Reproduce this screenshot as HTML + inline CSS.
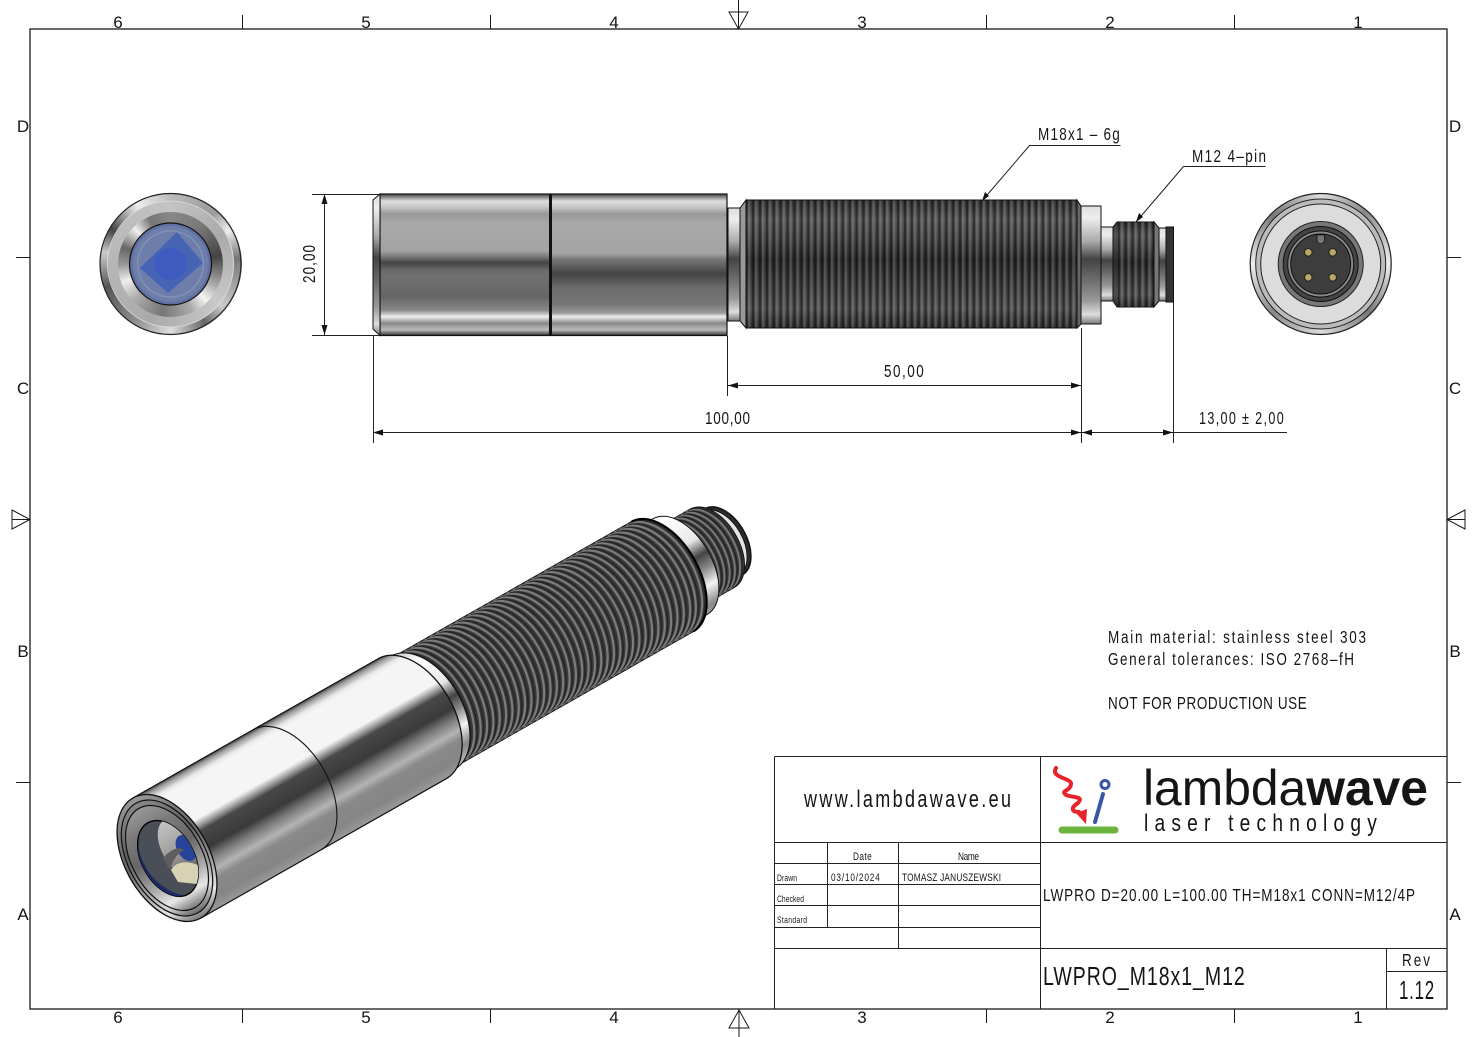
<!DOCTYPE html>
<html><head><meta charset="utf-8"><style>
html,body{margin:0;padding:0;background:#fff;width:1476px;height:1037px;overflow:hidden}
.c{position:absolute;border-radius:50%;box-sizing:border-box}
svg{position:absolute;left:0;top:0}
text{font-family:"Liberation Sans",sans-serif;fill:#151515}
</style></head><body>
<div class="c" style="left:99.5px;top:193px;width:142px;height:142px;background:conic-gradient(#bbb 0deg,#999 40deg,#eee 60deg,#777 85deg,#ccc 130deg,#666 150deg,#ddd 180deg,#888 215deg,#555 250deg,#ccc 280deg,#444 300deg,#eee 330deg,#bbb 360deg)"></div>
<div class="c" style="left:107.5px;top:201px;width:126px;height:126px;background:conic-gradient(#c4c4c4,#aaa 60deg,#c8c8c8 130deg,#aaa 200deg,#b8b8b8 280deg,#c4c4c4)"></div>
<div class="c" style="left:118px;top:211.5px;width:105px;height:105px;background:conic-gradient(#888 0deg,#777 40deg,#444 80deg,#aaa 115deg,#f4f4f4 135deg,#aaa 155deg,#777 190deg,#aaa 225deg,#eee 250deg,#999 270deg,#666 290deg,#f0f0f0 315deg,#777 335deg,#888 360deg)"></div>
<div class="c" style="left:1250px;top:193px;width:142px;height:142px;background:conic-gradient(#ddd,#888 40deg,#eee 90deg,#777 135deg,#ddd 180deg,#888 225deg,#eee 270deg,#777 315deg,#ddd)"></div>
<svg width="1476" height="1037" viewBox="0 0 1476 1037" xmlns="http://www.w3.org/2000/svg">
<defs>
<linearGradient id="m1" x1="0" y1="0" x2="0" y2="1"><stop offset="0" stop-color="#444"/><stop offset=".05" stop-color="#ddd"/><stop offset=".09" stop-color="#c8c8c8"/><stop offset=".14" stop-color="#999"/><stop offset=".21" stop-color="#a8a8a8"/><stop offset=".40" stop-color="#a4a4a4"/><stop offset=".445" stop-color="#777"/><stop offset=".485" stop-color="#444"/><stop offset=".54" stop-color="#6a6a6a"/><stop offset=".585" stop-color="#707070"/><stop offset=".725" stop-color="#666"/><stop offset=".82" stop-color="#888"/><stop offset=".867" stop-color="#eee"/><stop offset=".913" stop-color="#888"/><stop offset=".96" stop-color="#bbb"/><stop offset="1" stop-color="#333"/></linearGradient>
<linearGradient id="m2" x1="0" y1="0" x2="0" y2="1"><stop offset="0" stop-color="#444"/><stop offset=".05" stop-color="#ddd"/><stop offset=".09" stop-color="#c8c8c8"/><stop offset=".14" stop-color="#999"/><stop offset=".21" stop-color="#a8a8a8"/><stop offset=".42" stop-color="#a4a4a4"/><stop offset=".46" stop-color="#777"/><stop offset=".565" stop-color="#444"/><stop offset=".66" stop-color="#6a6a6a"/><stop offset=".78" stop-color="#777"/><stop offset=".84" stop-color="#999"/><stop offset=".867" stop-color="#eee"/><stop offset=".913" stop-color="#888"/><stop offset=".96" stop-color="#bbb"/><stop offset="1" stop-color="#333"/></linearGradient>
<linearGradient id="th" x1="0" y1="0" x2="0" y2="1"><stop offset="0" stop-color="#333"/><stop offset=".15" stop-color="#555"/><stop offset=".3" stop-color="#444"/><stop offset=".47" stop-color="#2a2a2a"/><stop offset=".62" stop-color="#3a3a3a"/><stop offset=".85" stop-color="#505050"/><stop offset="1" stop-color="#2c2c2c"/></linearGradient>
<linearGradient id="nk" x1="0" y1="0" x2="0" y2="1"><stop offset="0" stop-color="#ddd"/><stop offset=".1" stop-color="#eee"/><stop offset=".3" stop-color="#aaa"/><stop offset=".45" stop-color="#444"/><stop offset=".6" stop-color="#666"/><stop offset=".8" stop-color="#999"/><stop offset=".92" stop-color="#ddd"/><stop offset="1" stop-color="#777"/></linearGradient>
<pattern id="rib" patternUnits="userSpaceOnUse" width="6.9" height="10"><rect x="0" y="0" width="2" height="10" fill="#000" opacity=".42"/><rect x="3" y="0" width="2.2" height="10" fill="#fff" opacity=".16"/></pattern>
<linearGradient id="iso" gradientUnits="userSpaceOnUse" x1="0" y1="-69" x2="0" y2="69"><stop offset="0" stop-color="#444"/><stop offset=".025" stop-color="#999"/><stop offset=".07" stop-color="#e8e8e8"/><stop offset=".1" stop-color="#f5f5f5"/><stop offset=".36" stop-color="#f5f5f5"/><stop offset=".41" stop-color="#999"/><stop offset=".45" stop-color="#484848"/><stop offset=".58" stop-color="#3a3a3a"/><stop offset=".65" stop-color="#777"/><stop offset=".74" stop-color="#b4b4b4"/><stop offset=".8" stop-color="#8a8a8a"/><stop offset=".92" stop-color="#858585"/><stop offset="1" stop-color="#999"/></linearGradient>
<linearGradient id="ring" gradientUnits="userSpaceOnUse" x1="0" y1="-69" x2="0" y2="69"><stop offset="0" stop-color="#bbb"/><stop offset=".15" stop-color="#fff"/><stop offset=".38" stop-color="#e8e8e8"/><stop offset=".5" stop-color="#444"/><stop offset=".6" stop-color="#888"/><stop offset=".72" stop-color="#f4f4f4"/><stop offset=".85" stop-color="#888"/><stop offset="1" stop-color="#ccc"/></linearGradient>
<linearGradient id="face" x1="0" y1="0" x2="0" y2="1"><stop offset="0" stop-color="#999"/><stop offset=".2" stop-color="#7a7a7a"/><stop offset=".45" stop-color="#666"/><stop offset=".7" stop-color="#aaa"/><stop offset=".86" stop-color="#e8e8e8"/><stop offset="1" stop-color="#777"/></linearGradient>
<linearGradient id="face2" x1="0" y1="0" x2="0" y2="1"><stop offset="0" stop-color="#888"/><stop offset=".35" stop-color="#5c5c5c"/><stop offset=".7" stop-color="#aaa"/><stop offset=".85" stop-color="#ddd"/><stop offset="1" stop-color="#666"/></linearGradient>
<linearGradient id="inner" x1="0" y1="0" x2="0" y2="1"><stop offset="0" stop-color="#c4c4c4"/><stop offset=".55" stop-color="#9a9a9a"/><stop offset="1" stop-color="#555"/></linearGradient>
<g id="ar"><path d="M0,-63A38,63 0 0 1 0,63" fill="none" stroke="#7c7c7c" stroke-width="2.200"/><path d="M3.300,-63A38,63 0 0 1 3.300,63" fill="none" stroke="#262626" stroke-width="1.500"/></g>
<g id="a6"><use href="#ar"/><use href="#ar" x="7.3"/><use href="#ar" x="14.6"/><use href="#ar" x="21.9"/><use href="#ar" x="29.2"/><use href="#ar" x="36.5"/></g>
<g id="a36"><use href="#a6"/><use href="#a6" x="43.8"/><use href="#a6" x="87.6"/><use href="#a6" x="131.4"/><use href="#a6" x="175.2"/><use href="#a6" x="219"/></g>
<g id="ac"><path d="M0,-45A27,45 0 0 1 0,45" fill="none" stroke="#7a7a7a" stroke-width="1.800"/><path d="M2.700,-45A27,45 0 0 1 2.700,45" fill="none" stroke="#222" stroke-width="1.300"/></g>
<clipPath id="cl"><circle cx="170.5" cy="264" r="40"/></clipPath>
<clipPath id="ct"><path d="M288,-63H570A36,63 0 0 1 570,63H288Z"/></clipPath>
<clipPath id="cc"><path d="M600,-45H627A27,45 0 0 1 627,45H600Z"/></clipPath>
<clipPath id="ap"><ellipse cx="0" cy="0" rx="26" ry="41" transform="translate(168,858.500) rotate(-29.6)"/></clipPath>
</defs>

<!-- drawing frame -->
<g stroke="#1a1a1a" fill="none">
<rect x="30" y="29" width="1417" height="980" stroke-width="1.3"/>
<path d="M242.500 15V29M490.500 15V29M986.500 15V29M1234.500 15V29M242.500 1009V1023M490.500 1009V1023M986.500 1009V1023M1234.500 1009V1023M16 257.500H30M16 782.500H30M1447 257.500H1461M1447 782.500H1461" stroke-width="1"/>
<path d="M738.500 0V29M729 12H748L738.500 29ZM739 1009V1037M729 1028H749L739 1010ZM12 519.500H30M12 510V529L30 519.500ZM1447 519.500H1465M1465 510V529L1447 519.500Z" stroke-width="1"/>
</g>
<g font-size="17" text-anchor="middle">
<text x="118" y="28">6</text><text x="366" y="28">5</text><text x="614" y="28">4</text><text x="862" y="28">3</text><text x="1110" y="28">2</text><text x="1358" y="28">1</text>
<text x="118" y="1023">6</text><text x="366" y="1023">5</text><text x="614" y="1023">4</text><text x="862" y="1023">3</text><text x="1110" y="1023">2</text><text x="1358" y="1023">1</text>
<text x="23" y="132">D</text><text x="23" y="394">C</text><text x="23" y="657">B</text><text x="23" y="920">A</text>
<text x="1455" y="132">D</text><text x="1455" y="394">C</text><text x="1455" y="657">B</text><text x="1455" y="920">A</text>
</g>

<!-- left end view -->
<g fill="none">
<circle cx="170.500" cy="264" r="70.500" stroke="#222" stroke-width="1.2"/>
<circle cx="170.500" cy="264" r="63" stroke="#ddd" stroke-width=".8"/>
<circle cx="170.500" cy="264" r="41" fill="#5f70a2" stroke="#111" stroke-width="1.2"/>
<g clip-path="url(#cl)">
<circle cx="170.500" cy="264" r="38" fill="#6c7ea9"/>
<path d="M177 232L203 263L168 293L140 268Z" fill="#4763b4"/>
<circle cx="170.500" cy="264" r="33" fill="none" stroke="#8fa0c0" stroke-width="1.500" opacity=".6"/>
<circle cx="170.500" cy="264" r="16" fill="#3e5cc0"/>
</g>
</g>

<!-- right end view -->
<g fill="none">
<circle cx="1320.700" cy="264" r="70.500" stroke="#222" stroke-width="1.2"/>
<circle cx="1320.700" cy="264" r="65" fill="#bbb" stroke="#222" stroke-width="1"/>
<circle cx="1320.700" cy="264" r="60" fill="#dcdcdc" stroke="#222" stroke-width="1"/>
<circle cx="1320.700" cy="264" r="42.500" fill="#777" stroke="#222" stroke-width="1"/>
<circle cx="1320.700" cy="264" r="37.500" fill="#444" stroke="#111" stroke-width="1"/>
<circle cx="1320.700" cy="264" r="33" fill="#888" stroke="#111" stroke-width="1"/>
<circle cx="1320.700" cy="264" r="30" fill="#3d3d3d" stroke="#111" stroke-width="1"/>
<path d="M1317 235H1324.500V240A3.700 3.700 0 0 1 1317 240Z" fill="#777" stroke="#111" stroke-width=".8"/>
<g fill="#b9a765" stroke="#222" stroke-width="1"><circle cx="1308.300" cy="252.300" r="3.800"/><circle cx="1332.700" cy="252.300" r="3.800"/><circle cx="1308.300" cy="277.300" r="3.800"/><circle cx="1332.700" cy="277.300" r="3.800"/></g>
</g>

<!-- side view -->
<g stroke="#111" stroke-width="1">
<rect x="1166" y="227" width="7.500" height="75" fill="#333"/>
<rect x="1159" y="228" width="7" height="73" fill="url(#nk)"/>
<path d="M1154 222L1159 228V301L1154 307Z" fill="#777"/>
<path d="M1113 227L1117 222H1154V307H1117L1113 301Z" fill="url(#th)"/>
<rect x="1117" y="222" width="37" height="85" fill="url(#rib)" stroke="none"/>
<rect x="1101" y="227" width="12" height="74" fill="url(#nk)"/>
<rect x="1081" y="206" width="20" height="118" fill="url(#nk)"/>
<path d="M1077 200L1081 206V324L1077 328Z" fill="#666"/>
<path d="M746 200H1077V328H746Z" fill="url(#th)" stroke-width="1"/>
<rect x="746" y="200.500" width="331" height="127" fill="url(#rib)" stroke="none"/>
<path d="M740 208L746 200V328L740 321Z" fill="#999"/>
<rect x="728" y="208" width="12" height="113" fill="url(#nk)"/>
<rect x="551" y="194" width="176" height="141.500" fill="url(#m2)" stroke-width="1.200"/>
<rect x="380" y="194" width="170" height="141.500" fill="url(#m1)" stroke-width="1.200"/>
<path d="M380 194L373 200V329L380 335.500Z" fill="url(#nk)" stroke-width="1"/>
<path d="M550.500 194V335.500" stroke="#111" stroke-width="3"/>
</g>

<!-- dimensions -->
<g stroke="#222" stroke-width="1" fill="none">
<path d="M312 194.500H380M312 335.500H380M324.500 195V335"/>
<path d="M373.500 336V443M727.500 336V396M1081.500 328V443M1173.500 302V443"/>
<path d="M728 385.500H1081M373 432.500H1081M1081 432.500H1287"/>
<path d="M1029.500 145.500H1120.500M1029.500 145.500L982 201M1183.500 166.500H1265.500M1183.500 166.500L1136 222"/>
</g>
<g fill="#111">
<path d="M324.500 194L321.500 204H327.500ZM324.500 335L321.500 325H327.500Z"/>
<path d="M728 385.500L738 382.500V388.500ZM1081 385.500L1071 382.500V388.500Z"/>
<path d="M373 432.500L383 429.500V435.500ZM1081 432.500L1071 429.500V435.500ZM1082 432.500L1092 429.500V435.500ZM1173 432.500L1163 429.500V435.500Z"/>
<path d="M982 201L985 192L989 196ZM1136 222L1139 213L1143 217Z"/>
</g>
<g font-size="18">
<text transform="translate(315,283) rotate(-90) scale(.75,1)" textLength="50.700" lengthAdjust="spacing">20,00</text>
<text transform="translate(884,377) scale(.75,1)" textLength="53" lengthAdjust="spacing">50,00</text>
<text transform="translate(705,424) scale(.75,1)" textLength="60" lengthAdjust="spacing">100,00</text>
<text transform="translate(1199,424) scale(.7,1)" textLength="121" lengthAdjust="spacing">13,00 ± 2,00</text>
<text transform="translate(1038,140) scale(.75,1)" textLength="109" lengthAdjust="spacing">M18x1 – 6g</text>
<text transform="translate(1192,162) scale(.75,1)" textLength="98.700" lengthAdjust="spacing">M12 4–pin</text>
<text transform="translate(1108,643) scale(.75,1)" textLength="344" lengthAdjust="spacing">Main material: stainless steel 303</text>
<text transform="translate(1108,665) scale(.75,1)" textLength="328" lengthAdjust="spacing">General tolerances: ISO 2768–fH</text>
<text transform="translate(1108,709) scale(.75,1)" textLength="265" lengthAdjust="spacing">NOT FOR PRODUCTION USE</text>
</g>

<!-- isometric view -->
<g transform="translate(167,858) rotate(-29.6)" stroke-linejoin="round">
<!-- connector end -->
<path d="M632,-38H640A23,38 0 0 1 640,38H632Z" fill="#2c2c2c" stroke="#111" stroke-width="1.500"/>
<path d="M633,-37H636A23,37 0 0 1 636,37H633Z" fill="#e4e4e4" stroke="#111" stroke-width="1"/>
<path d="M630,-36H630A21,36 0 0 1 630,36Z" fill="#444" stroke="#111" stroke-width="1"/>
<path d="M600,-45H627A27,45 0 0 1 627,45H600Z" fill="#3c3c3c" stroke="#111" stroke-width="1"/>
<g clip-path="url(#cc)"><use href="#ac" x="598"/><use href="#ac" x="604"/><use href="#ac" x="610"/><use href="#ac" x="616"/><use href="#ac" x="622"/></g>
<path d="M580,-44H592A27,44 0 0 1 592,44H580Z" fill="url(#ring)" stroke="#111" stroke-width=".8"/>
<!-- ring -->
<path d="M570,-55H590A32,55 0 0 1 590,55H570Z" fill="url(#ring)" stroke="#111" stroke-width="1"/>
<!-- thread -->
<path d="M288,-63H570A36,63 0 0 1 570,63H288Z" fill="#3a3a3a" stroke="#111" stroke-width="1.200"/>
<g clip-path="url(#ct)"><use href="#a36" x="294"/><use href="#a6" x="556"/></g>
<path d="M570,-63A36,63 0 0 1 570,63" fill="none" stroke="#000" stroke-width="2"/>
<!-- neck -->
<path d="M282,-65H294A40,65 0 0 1 294,65H282Z" fill="url(#ring)" stroke="#111" stroke-width="1"/>
<!-- body -->
<path d="M0,-69H282A42,69 0 0 1 282,69H0Z" fill="url(#iso)" stroke="#111" stroke-width="1.200"/>
<path d="M138,-69A42,69 0 0 1 138,69" fill="none" stroke="#111" stroke-width="1.100"/>
<path d="M282,-69A42,69 0 0 1 282,69" fill="none" stroke="#111" stroke-width="1"/>
<!-- front -->
<ellipse cx="0" cy="0" rx="42" ry="69" fill="url(#face)" stroke="#111" stroke-width="1.300"/>
<ellipse cx="0" cy="0" rx="38.500" ry="63" fill="url(#face2)" stroke="#111" stroke-width="1.200"/>
<ellipse cx="0" cy="0" rx="35" ry="57" fill="url(#face)" stroke="#111" stroke-width="1.200"/>
</g>
<ellipse cx="0" cy="0" rx="26" ry="41" transform="translate(168,858.500) rotate(-29.6)" fill="#4a4f57" stroke="#000" stroke-width="1.400"/>
<g clip-path="url(#ap)">
<path d="M138 845C142 870 160 890 182 895L176 899L140 880Z" fill="#1c2a66"/>
<ellipse cx="0" cy="0" rx="18" ry="32" transform="translate(180,848) rotate(-29.6)" fill="url(#inner)"/>
<path d="M171 870C176 861 188 860 200 866L197 884L178 882Z" fill="#d7d2b4"/>
<ellipse cx="0" cy="0" rx="9" ry="14" transform="translate(186,848) rotate(-29.6)" fill="#27449a"/>
<path d="M163 858C170 850 178 846 184 850C176 854 172 862 170 870Z" fill="#5e5e5e"/>
</g>

<!-- title block -->
<g stroke="#222" fill="none" stroke-width="1">
<path d="M774.500 756.500H1447M774.500 756.500V1009M1040.500 756V1009M774 842.500H1447M774 948.500H1447"/>
<path d="M827.500 842V927M898.500 842V948M774 863.500H1040M774 884.500H1040M774 905.500H1040M774 927.500H1040"/>
<path d="M1386.500 948V1009M1386 971.500H1447"/>
</g>
<text transform="translate(804,807) scale(.75,1)" font-size="24" textLength="276" lengthAdjust="spacing">www.lambdawave.eu</text>
<text x="1143" y="805" font-size="50" textLength="285" lengthAdjust="spacingAndGlyphs">lambda<tspan font-weight="bold">wave</tspan></text>
<text transform="translate(1144,831) scale(.8,1)" font-size="24" textLength="291" lengthAdjust="spacing">laser technology</text>
<path d="M1056 768C1050 778 1072 778 1071 784C1070 792 1060 790 1066 795C1074 798 1084 796 1078 803C1070 808 1072 812 1079 812L1084 818" fill="none" stroke="#e8232a" stroke-width="4" stroke-linecap="round"/>
<path d="M1086 824L1076 813L1087 809Z" fill="#e8232a"/>
<path d="M1062 830H1115" stroke="#6db33f" stroke-width="7" stroke-linecap="round"/>
<circle cx="1105" cy="784.500" r="4" fill="#fff" stroke="#3b55a5" stroke-width="3"/>
<path d="M1103 794L1095 822" stroke="#3b55a5" stroke-width="4" stroke-linecap="round"/>
<g>
<text transform="translate(853,860) scale(.75,1)" font-size="11" textLength="25" lengthAdjust="spacing">Date</text>
<text transform="translate(958,860) scale(.75,1)" font-size="11" textLength="28" lengthAdjust="spacing">Name</text>
<text transform="translate(777,881) scale(.75,1)" font-size="9" textLength="26.700" lengthAdjust="spacing">Drawn</text>
<text transform="translate(777,902) scale(.75,1)" font-size="9" textLength="36" lengthAdjust="spacing">Checked</text>
<text transform="translate(777,923) scale(.75,1)" font-size="9" textLength="40" lengthAdjust="spacing">Standard</text>
<text transform="translate(831,881) scale(.75,1)" font-size="11" textLength="65" lengthAdjust="spacing">03/10/2024</text>
<text transform="translate(902,881) scale(.75,1)" font-size="11" textLength="132" lengthAdjust="spacing">TOMASZ JANUSZEWSKI</text>
<text transform="translate(1043,901) scale(.75,1)" font-size="18" textLength="496" lengthAdjust="spacing">LWPRO D=20.00 L=100.00 TH=M18x1 CONN=M12/4P</text>
<text transform="translate(1043,985) scale(.75,1)" font-size="26" textLength="269" lengthAdjust="spacing">LWPRO_M18x1_M12</text>
<text transform="translate(1402,966) scale(.75,1)" font-size="18" textLength="37.300" lengthAdjust="spacing">Rev</text>
<text transform="translate(1399,999) scale(.65,1)" font-size="26" textLength="54" lengthAdjust="spacing">1.12</text>
</g>
</svg>
</body></html>
